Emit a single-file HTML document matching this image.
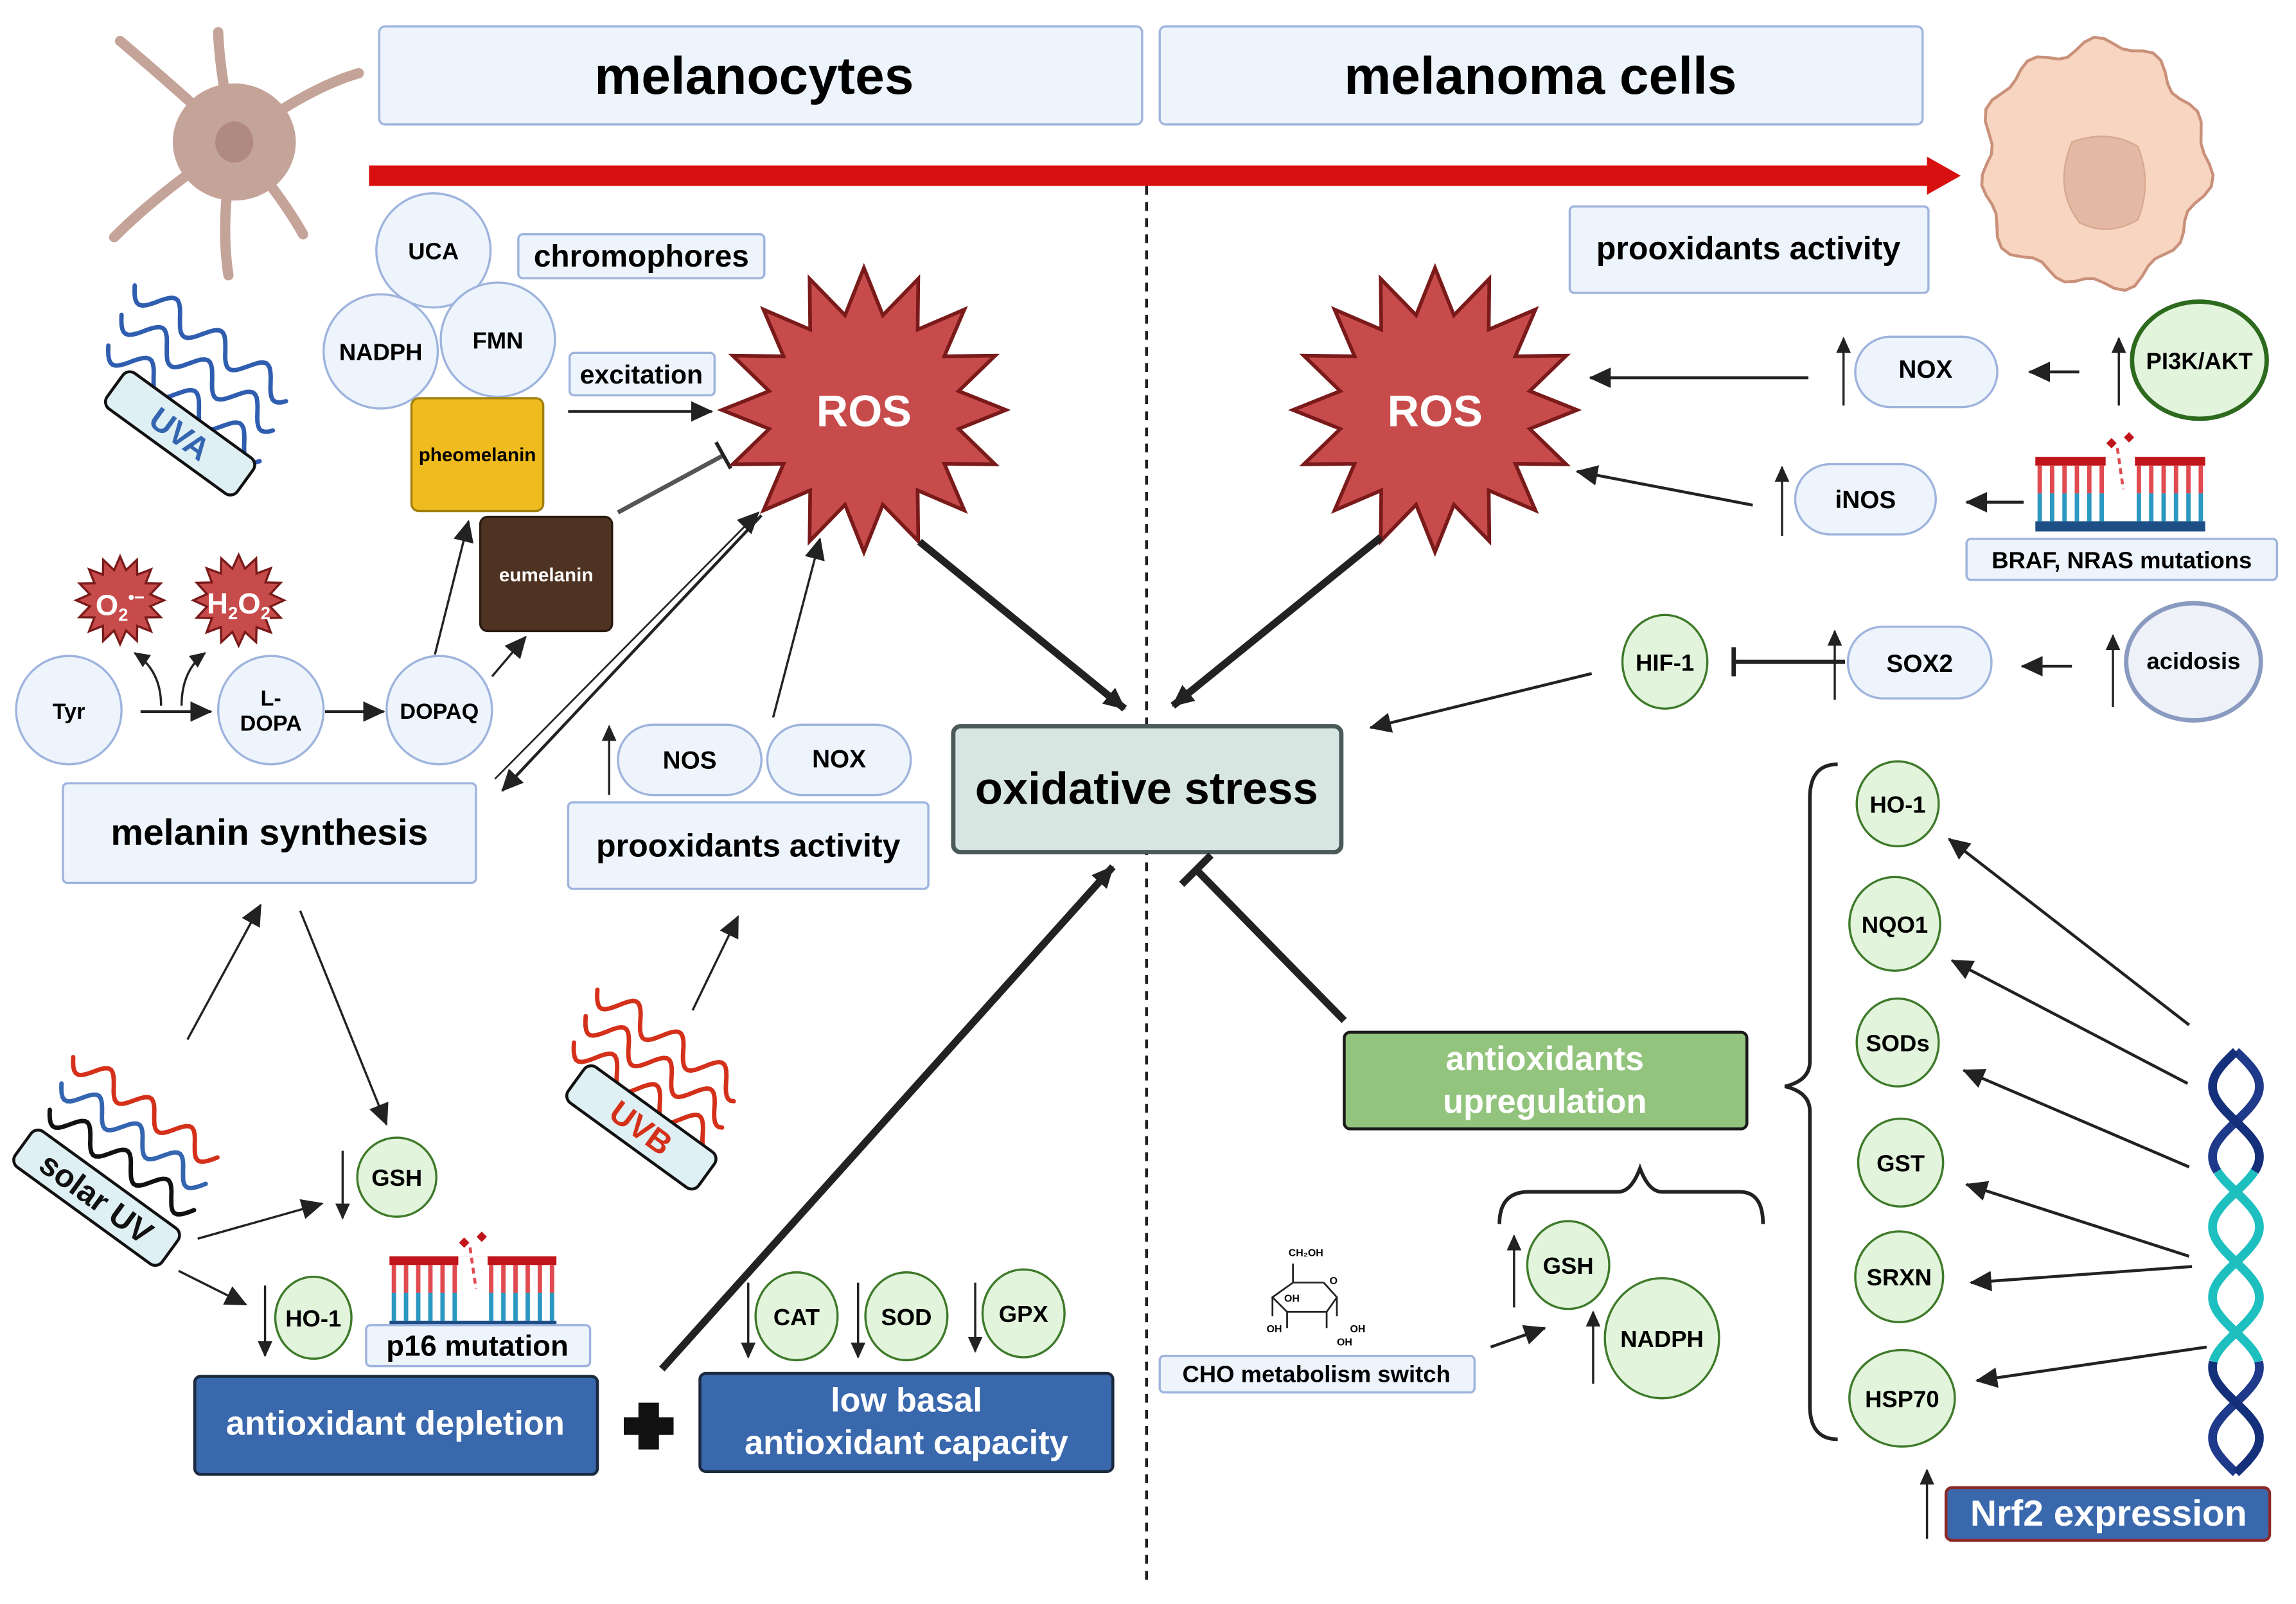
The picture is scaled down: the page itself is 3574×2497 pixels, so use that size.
<!DOCTYPE html>
<html><head><meta charset="utf-8">
<style>
html,body{margin:0;padding:0;background:#fff;}
svg{display:block;}
text{font-family:"Liberation Sans Narrow","Liberation Sans",sans-serif;font-weight:bold;}
</style></head>
<body>
<svg id="s" xmlns="http://www.w3.org/2000/svg" width="3574" height="2497" viewBox="0 0 1568 1095.5" preserveAspectRatio="none">
<defs>
<marker id="a" markerUnits="userSpaceOnUse" markerWidth="20" markerHeight="20" refX="14" refY="7" orient="auto"><path d="M0,0 L15,7 L0,14 z" fill="#222"/></marker>
<marker id="as" markerUnits="userSpaceOnUse" markerWidth="14" markerHeight="14" refX="10" refY="5" orient="auto"><path d="M0,0 L11,5 L0,10 z" fill="#222"/></marker>
</defs>
<rect width="1568" height="1096" fill="#fff"/>
<g id="bg"></g>

<!-- title boxes -->
<rect x="259" y="18" width="521" height="67" rx="4" fill="#eef4fc" stroke="#9fb4dd" stroke-width="1.5"/>
<text x="515" y="64" font-size="36" text-anchor="middle">melanocytes</text>
<rect x="792" y="18" width="521" height="67" rx="4" fill="#eef4fc" stroke="#9fb4dd" stroke-width="1.5"/>
<text x="1052" y="64" font-size="36" text-anchor="middle">melanoma cells</text>

<!-- red arrow -->
<rect x="252" y="113" width="1066" height="14" fill="#d91010"/>
<path d="M1316,107 L1339,120 L1316,133 z" fill="#d91010"/>
<!-- dotted line -->
<line x1="783" y1="127" x2="783" y2="1080" stroke="#222" stroke-width="2" stroke-dasharray="6,5"/>

<!-- melanocyte -->
<g stroke="#c4a398" stroke-linecap="round" fill="none">
<path d="M160,97 Q120,60 82,28" stroke-width="7"/>
<path d="M160,97 Q150,50 149,22" stroke-width="7"/>
<path d="M160,97 Q210,60 245,50" stroke-width="7"/>
<path d="M160,97 Q190,130 207,160" stroke-width="7"/>
<path d="M160,97 Q150,150 156,188" stroke-width="7"/>
<path d="M160,97 Q110,130 78,162" stroke-width="7"/>
</g>
<ellipse cx="160" cy="97" rx="42" ry="40" fill="#c4a398"/>
<ellipse cx="160" cy="97" rx="13" ry="14" fill="#b08a82"/>

<!-- melanoma cell -->
<path id="mcell" fill="#f7d5c0" stroke="#c9907a" stroke-width="2"/>
<path d="M1415,97 Q1440,88 1460,100 Q1470,125 1460,150 Q1440,162 1420,152 Q1402,128 1415,97z" fill="#e4b9a3" stroke="#d7a890" stroke-width="1"/>

<!-- chromophore circles -->
<g fill="#eef4fc" stroke="#9fb4dd" stroke-width="1.5">
<circle cx="296" cy="171" r="39"/>
<circle cx="260" cy="240" r="39"/>
<circle cx="340" cy="232" r="39"/>
</g>
<g font-size="16" text-anchor="middle">
<text x="296" y="177">UCA</text><text x="260" y="246">NADPH</text><text x="340" y="238">FMN</text>
</g>
<rect x="354" y="160" width="168" height="30" rx="3" fill="#eef4fc" stroke="#9fb4dd" stroke-width="1.5"/>
<text x="438" y="182" font-size="21" text-anchor="middle">chromophores</text>
<rect x="389" y="241" width="99" height="29" rx="3" fill="#eef4fc" stroke="#9fb4dd" stroke-width="1.5"/>
<text x="438" y="262" font-size="18" text-anchor="middle">excitation</text>
<rect x="281" y="272" width="90" height="77" rx="5" fill="#f0bb1e" stroke="#a0800e" stroke-width="1.5"/>
<text x="326" y="315" font-size="13" text-anchor="middle">pheomelanin</text>
<rect x="328" y="353" width="90" height="78" rx="5" fill="#4f3322" stroke="#2a1a10" stroke-width="1.5"/>
<text x="373" y="397" font-size="13" text-anchor="middle" fill="#fff">eumelanin</text>
<line x1="388" y1="281" x2="486" y2="281" stroke="#222" stroke-width="2" marker-end="url(#a)"/>
<line x1="422" y1="350" x2="494" y2="311" stroke="#555" stroke-width="3"/>
<line x1="489" y1="302" x2="499" y2="320" stroke="#222" stroke-width="2.5"/>

<g id="stars"></g>

<!-- Tyr pathway -->
<g fill="#eef4fc" stroke="#9fb4dd" stroke-width="1.5">
<ellipse cx="47" cy="485" rx="36" ry="37"/>
<ellipse cx="185" cy="485" rx="36" ry="37"/>
<ellipse cx="300" cy="485" rx="36" ry="37"/>
</g>
<text x="47" y="491" font-size="15" text-anchor="middle">Tyr</text>
<text x="185" y="482" font-size="15" text-anchor="middle">L-</text>
<text x="185" y="499" font-size="15" text-anchor="middle">DOPA</text>
<text x="300" y="491" font-size="15" text-anchor="middle">DOPAQ</text>
<line x1="96" y1="486" x2="144" y2="486" stroke="#222" stroke-width="2" marker-end="url(#a)"/>
<line x1="222" y1="486" x2="262" y2="486" stroke="#222" stroke-width="2" marker-end="url(#a)"/>
<path d="M110,482 Q110,458 92,446" stroke="#222" stroke-width="1.5" fill="none" marker-end="url(#as)"/>
<path d="M124,482 Q124,458 140,446" stroke="#222" stroke-width="1.5" fill="none" marker-end="url(#as)"/>
<line x1="297" y1="447" x2="320" y2="356" stroke="#222" stroke-width="1.5" marker-end="url(#a)"/>
<line x1="336" y1="462" x2="359" y2="435" stroke="#222" stroke-width="1.5" marker-end="url(#a)"/>

<!-- melanin synthesis -->
<rect x="43" y="535" width="282" height="68" rx="3" fill="#eef4fc" stroke="#9fb4dd" stroke-width="1.5"/>
<text x="184" y="577" font-size="25" text-anchor="middle">melanin synthesis</text>
<line x1="520" y1="352" x2="343" y2="540" stroke="#222" stroke-width="2" marker-end="url(#a)"/>
<line x1="338" y1="532" x2="518" y2="350" stroke="#222" stroke-width="1.2" marker-end="url(#a)"/>

<!-- NOS NOX -->
<rect x="422" y="495" width="98" height="48" rx="24" fill="#eef4fc" stroke="#9fb4dd" stroke-width="1.5"/>
<rect x="524" y="495" width="98" height="48" rx="24" fill="#eef4fc" stroke="#9fb4dd" stroke-width="1.5"/>
<text x="471" y="525" font-size="17" text-anchor="middle">NOS</text>
<text x="573" y="524" font-size="17" text-anchor="middle">NOX</text>
<line x1="416" y1="543" x2="416" y2="496" stroke="#222" stroke-width="1.5" marker-end="url(#as)"/>
<rect x="388" y="548" width="246" height="59" rx="3" fill="#eef4fc" stroke="#9fb4dd" stroke-width="1.5"/>
<text x="511" y="585" font-size="22" text-anchor="middle">prooxidants activity</text>
<line x1="528" y1="490" x2="560" y2="368" stroke="#222" stroke-width="1.5" marker-end="url(#a)"/>

<!-- oxidative stress -->
<rect x="651" y="496" width="265" height="86" rx="5" fill="#d8e6e2" stroke="#4a5a58" stroke-width="3"/>
<text x="783" y="549" font-size="31" text-anchor="middle">oxidative stress</text>
<line x1="628" y1="370" x2="768" y2="484" stroke="#222" stroke-width="5" marker-end="url(#a)"/>
<line x1="943" y1="367" x2="801" y2="482" stroke="#222" stroke-width="5" marker-end="url(#a)"/>

<!-- left bottom -->
<line x1="128" y1="710" x2="178" y2="618" stroke="#222" stroke-width="1.5" marker-end="url(#a)"/>
<line x1="205" y1="622" x2="264" y2="768" stroke="#222" stroke-width="1.5" marker-end="url(#a)"/>
<g fill="#e2f4dc" stroke="#3e7a2a" stroke-width="1.5">
<circle cx="271" cy="804" r="27"/>
<ellipse cx="214" cy="900" rx="26" ry="28"/>
<ellipse cx="544" cy="899" rx="28" ry="30"/>
<ellipse cx="619" cy="899" rx="28" ry="30"/>
<ellipse cx="699" cy="897" rx="28" ry="30"/>
</g>
<g font-size="16" text-anchor="middle">
<text x="271" y="810">GSH</text><text x="214" y="906">HO-1</text>
<text x="544" y="905">CAT</text><text x="619" y="905">SOD</text><text x="699" y="903">GPX</text>
</g>
<g stroke="#222" stroke-width="1.5">
<line x1="234" y1="786" x2="234" y2="832" marker-end="url(#as)"/>
<line x1="181" y1="878" x2="181" y2="926" marker-end="url(#as)"/>
<line x1="511" y1="876" x2="511" y2="927" marker-end="url(#as)"/>
<line x1="586" y1="876" x2="586" y2="927" marker-end="url(#as)"/>
<line x1="666" y1="876" x2="666" y2="923" marker-end="url(#as)"/>
<line x1="135" y1="846" x2="220" y2="822" marker-end="url(#a)"/>
<line x1="122" y1="868" x2="168" y2="891" marker-end="url(#a)"/>
</g>
<g id="dna1"></g>
<rect x="250" y="905" width="153" height="28" rx="3" fill="#eef4fc" stroke="#9fb4dd" stroke-width="1.5"/>
<text x="326" y="926" font-size="20" text-anchor="middle">p16 mutation</text>
<rect x="133" y="940" width="275" height="67" rx="4" fill="#3a68ad" stroke="#1c2a40" stroke-width="2"/>
<text x="270" y="980" font-size="23" text-anchor="middle" fill="#fff">antioxidant depletion</text>
<path d="M436,958h14v10h10v12h-10v10h-14v-10h-10v-12h10z" fill="#111"/>
<rect x="478" y="938" width="282" height="67" rx="4" fill="#3a68ad" stroke="#1c2a40" stroke-width="2"/>
<text x="619" y="964" font-size="23" text-anchor="middle" fill="#fff">low basal</text>
<text x="619" y="993" font-size="23" text-anchor="middle" fill="#fff">antioxidant capacity</text>
<line x1="452" y1="935" x2="760" y2="592" stroke="#222" stroke-width="5" marker-end="url(#a)"/>
<line x1="473" y1="690" x2="504" y2="626" stroke="#222" stroke-width="1.5" marker-end="url(#a)"/>

<g id="waves"></g>
<g transform="translate(123,296) rotate(36)"><rect x="-55" y="-15" width="110" height="30" rx="6" fill="#dff0f4" stroke="#111" stroke-width="2"/><text y="8" font-size="22" text-anchor="middle" fill="#3465b0">UVA</text></g>
<g transform="translate(66,818) rotate(36)"><rect x="-62" y="-15" width="124" height="30" rx="6" fill="#dff0f4" stroke="#111" stroke-width="2"/><text y="8" font-size="22" text-anchor="middle" fill="#111">solar UV</text></g>
<g transform="translate(438,770) rotate(36)"><rect x="-55" y="-15" width="110" height="30" rx="6" fill="#dff0f4" stroke="#111" stroke-width="2"/><text y="8" font-size="22" text-anchor="middle" fill="#d4301a">UVB</text></g>

<!-- right side -->
<rect x="1072" y="141" width="245" height="59" rx="3" fill="#eef4fc" stroke="#9fb4dd" stroke-width="1.5"/>
<text x="1194" y="177" font-size="22" text-anchor="middle">prooxidants activity</text>
<rect x="1267" y="230" width="97" height="48" rx="24" fill="#eef4fc" stroke="#9fb4dd" stroke-width="1.5"/>
<text x="1315" y="258" font-size="17" text-anchor="middle">NOX</text>
<ellipse cx="1502" cy="246" rx="46" ry="40" fill="#e2f4dc" stroke="#2d6a1e" stroke-width="3"/>
<text x="1502" y="252" font-size="16" text-anchor="middle">PI3K/AKT</text>
<rect x="1226" y="317" width="96" height="48" rx="24" fill="#eef4fc" stroke="#9fb4dd" stroke-width="1.5"/>
<text x="1274" y="347" font-size="17" text-anchor="middle">iNOS</text>
<g id="dna2"></g>
<rect x="1343" y="368" width="212" height="28" rx="3" fill="#eef4fc" stroke="#9fb4dd" stroke-width="1.5"/>
<text x="1449" y="388" font-size="16" text-anchor="middle">BRAF, NRAS mutations</text>
<ellipse cx="1137" cy="452" rx="29" ry="32" fill="#e2f4dc" stroke="#3e7a2a" stroke-width="1.5"/>
<text x="1137" y="458" font-size="16" text-anchor="middle">HIF-1</text>
<rect x="1262" y="428" width="98" height="49" rx="24" fill="#eef4fc" stroke="#9fb4dd" stroke-width="1.5"/>
<text x="1311" y="459" font-size="17" text-anchor="middle">SOX2</text>
<ellipse cx="1498" cy="452" rx="46" ry="40" fill="#eef2f8" stroke="#8a9ac0" stroke-width="3"/>
<text x="1498" y="457" font-size="16" text-anchor="middle">acidosis</text>
<g stroke="#222" stroke-width="1.5">
<line x1="1259" y1="277" x2="1259" y2="231" marker-end="url(#as)"/>
<line x1="1447" y1="277" x2="1447" y2="231" marker-end="url(#as)"/>
<line x1="1217" y1="366" x2="1217" y2="319" marker-end="url(#as)"/>
<line x1="1253" y1="478" x2="1253" y2="431" marker-end="url(#as)"/>
<line x1="1443" y1="483" x2="1443" y2="434" marker-end="url(#as)"/>
<line x1="1235" y1="258" x2="1086" y2="258" stroke-width="2" marker-end="url(#a)"/>
<line x1="1420" y1="254" x2="1386" y2="254" stroke-width="2" marker-end="url(#a)"/>
<line x1="1197" y1="345" x2="1077" y2="322" stroke-width="2" marker-end="url(#a)"/>
<line x1="1382" y1="343" x2="1343" y2="343" stroke-width="2" marker-end="url(#a)"/>
<line x1="1415" y1="455" x2="1381" y2="455" stroke-width="2" marker-end="url(#a)"/>
<line x1="1260" y1="452" x2="1184" y2="452" stroke-width="3"/>
<line x1="1184" y1="442" x2="1184" y2="462" stroke-width="3"/>
<line x1="1087" y1="460" x2="936" y2="497" stroke-width="2" marker-end="url(#a)"/>
</g>
<line x1="918" y1="697" x2="817" y2="594" stroke="#222" stroke-width="5"/>
<line x1="807" y1="604" x2="827" y2="584" stroke="#222" stroke-width="5"/>
<rect x="918" y="705" width="275" height="66" rx="4" fill="#93c47d" stroke="#1a1a1a" stroke-width="2"/>
<text x="1055" y="731" font-size="23" text-anchor="middle" fill="#fff">antioxidants</text>
<text x="1055" y="760" font-size="23" text-anchor="middle" fill="#fff">upregulation</text>
<path d="M1024,836 Q1024,814 1044,814 L1105,814 Q1114,814 1120,798 Q1126,814 1135,814 L1188,814 Q1204,814 1204,836" fill="none" stroke="#222" stroke-width="2.5"/>
<ellipse cx="1071" cy="864" rx="28" ry="30" fill="#e2f4dc" stroke="#3e7a2a" stroke-width="1.5"/>
<text x="1071" y="870" font-size="16" text-anchor="middle">GSH</text>
<ellipse cx="1135" cy="914" rx="39" ry="41" fill="#e2f4dc" stroke="#3e7a2a" stroke-width="1.5"/>
<text x="1135" y="920" font-size="16" text-anchor="middle">NADPH</text>
<g stroke="#222" stroke-width="1.5">
<line x1="1034" y1="893" x2="1034" y2="844" marker-end="url(#as)"/>
<line x1="1088" y1="945" x2="1088" y2="896" marker-end="url(#as)"/>
<line x1="1018" y1="920" x2="1055" y2="907" stroke-width="2" marker-end="url(#a)"/>
</g>
<!-- sugar -->
<g stroke="#222" stroke-width="1.2" fill="none">
<path d="M883,863 L883,876 L904,876 M904,876 L913,886 L906,896 L879,896 L869,886 L883,876 M879,896 L879,907 M906,896 L906,907 M913,886 L913,899 M869,886 L869,899"/>
</g>
<g font-size="7" font-weight="normal">
<text x="880" y="858">CH₂OH</text><text x="908" y="877">O</text><text x="877" y="889">OH</text>
<text x="865" y="910">OH</text><text x="922" y="910">OH</text><text x="913" y="919">OH</text>
</g>
<rect x="792" y="926" width="215" height="25" rx="3" fill="#eef4fc" stroke="#9fb4dd" stroke-width="1.5"/>
<text x="899" y="944" font-size="16" text-anchor="middle">CHO metabolism switch</text>

<!-- big brace -->
<path d="M1255,522 Q1236,522 1236,545 L1236,725 Q1236,738 1219,742 Q1236,746 1236,759 L1236,960 Q1236,983 1255,983" fill="none" stroke="#222" stroke-width="2.5"/>
<g fill="#e2f4dc" stroke="#3e7a2a" stroke-width="1.5">
<ellipse cx="1296" cy="549" rx="28" ry="29"/>
<ellipse cx="1294" cy="631" rx="31" ry="32"/>
<ellipse cx="1296" cy="712" rx="28" ry="30"/>
<ellipse cx="1298" cy="794" rx="29" ry="30"/>
<ellipse cx="1297" cy="872" rx="30" ry="31"/>
<ellipse cx="1299" cy="955" rx="36" ry="33"/>
</g>
<g font-size="16" text-anchor="middle">
<text x="1296" y="555">HO-1</text><text x="1294" y="637">NQO1</text><text x="1296" y="718">SODs</text>
<text x="1298" y="800">GST</text><text x="1297" y="878">SRXN</text><text x="1299" y="961">HSP70</text>
</g>
<g stroke="#222" stroke-width="2">
<line x1="1495" y1="700" x2="1331" y2="573" marker-end="url(#a)"/>
<line x1="1494" y1="740" x2="1333" y2="656" marker-end="url(#a)"/>
<line x1="1495" y1="797" x2="1341" y2="731" marker-end="url(#a)"/>
<line x1="1495" y1="858" x2="1343" y2="809" marker-end="url(#a)"/>
<line x1="1497" y1="865" x2="1346" y2="876" marker-end="url(#a)"/>
<line x1="1507" y1="920" x2="1350" y2="943" marker-end="url(#a)"/>
</g>
<g id="helix"></g>
<rect x="1329" y="1016" width="221" height="36" rx="4" fill="#3a68ad" stroke="#8a2a2a" stroke-width="2"/>
<text x="1440" y="1042" font-size="25" text-anchor="middle" fill="#fff">Nrf2 expression</text>
<line x1="1316" y1="1051" x2="1316" y2="1004" stroke="#222" stroke-width="1.5" marker-end="url(#as)"/>

<g id="stexts"></g>
<text x="590" y="291" font-size="30" text-anchor="middle" fill="#fff">ROS</text>
<text x="980" y="291" font-size="30" text-anchor="middle" fill="#fff">ROS</text>
<text x="82" y="420" font-size="20" text-anchor="middle" fill="#fff">O<tspan font-size="12" dy="4">2</tspan><tspan font-size="12" dy="-12">•−</tspan></text>
<text x="163" y="419" font-size="20" text-anchor="middle" fill="#fff">H<tspan font-size="12" dy="4">2</tspan><tspan dy="-4">O</tspan><tspan font-size="12" dy="4">2</tspan></text>
</svg>
<script>
var NS="http://www.w3.org/2000/svg";
function el(p,t,a){var e=document.createElementNS(NS,t);for(var k in a)e.setAttribute(k,a[k]);document.getElementById(p).appendChild(e);return e;}
function star(cx,cy,ro,ri,n,sw){var pts=[];for(var i=0;i<2*n;i++){var r=i%2?ri:ro;var a=Math.PI*i/n-Math.PI/2;pts.push((cx+r*Math.cos(a)).toFixed(1)+","+(cy+r*Math.sin(a)).toFixed(1));}
el("stars","polygon",{points:pts.join(" "),fill:"#c84b4b",stroke:"#7a1a1a","stroke-width":sw,"stroke-linejoin":"miter"});}
star(590,280,97,66,16,2.5);star(980,280,97,66,16,2.5);
star(82,410,30,21,16,1.5);star(163,410,31,22,16,1.5);
// melanoma cell
(function(){var d="";for(var i=0;i<=72;i++){var a=i/72*2*Math.PI;var r=80+4*Math.sin(a*11)+3*Math.cos(a*5);var x=1430+r*0.95*Math.cos(a),y=112+r*1.03*Math.sin(a);d+=(i?"L":"M")+x.toFixed(1)+","+y.toFixed(1);}document.getElementById("mcell").setAttribute("d",d+"z");
for(var j=0;j<18;j++){var a=j*2.4,r=30+ (j*13)%45;el("bg","circle",{});}
})();
// waves
function wave(x0,y0,len,ang,amp,per,col,w){var d="";var ca=Math.cos(ang),sa=Math.sin(ang);for(var t=0;t<=len;t+=2){var o=amp*Math.sin(2*Math.PI*t/per);var x=x0+t*ca-o*sa,y=y0+t*sa+o*ca;d+=(t?"L":"M")+x.toFixed(1)+","+y.toFixed(1);}
el("waves","path",{d:d,fill:"none",stroke:col,"stroke-width":w||3,"stroke-linecap":"round"});}
var A=0.62;
wave(92,195,130,A,9,38,"#2f5db0");wave(83,215,130,A,9,38,"#2f5db0");wave(74,236,130,A,9,38,"#2f5db0");
wave(50,722,120,A,8,34,"#d4301a");wave(42,740,120,A,8,34,"#3465b0");wave(34,758,120,A,8,34,"#111");
wave(408,676,120,A,9,36,"#d4301a");wave(400,694,120,A,9,36,"#d4301a");wave(392,712,120,A,9,36,"#d4301a");
// DNA mutation graphics
function dna(g,x,y,w){el(g,"rect",{x:x,y:y,width:w,height:6,fill:"#c0141a"});el(g,"rect",{x:x,y:y+44,width:w,height:7,fill:"#1d4f86"});
var n=Math.round(w/9);for(var i=0;i<=n;i++){var xx=x+3+i*(w-6)/n;if(Math.abs(xx-(x+w/2))<10)continue;el(g,"rect",{x:xx-1.5,y:y+6,width:3,height:19,fill:"#e04a50"});el(g,"rect",{x:xx-1.5,y:y+25,width:3,height:19,fill:"#2a98c0"});}
el(g,"rect",{x:x+w/2-10,y:y,width:20,height:8,fill:"#fff"});
el(g,"rect",{x:x+w/2-8,y:y-12,width:5,height:5,fill:"#c0141a",transform:"rotate(45 "+(x+w/2-6)+" "+(y-10)+")"});
el(g,"rect",{x:x+w/2+4,y:y-16,width:5,height:5,fill:"#c0141a",transform:"rotate(45 "+(x+w/2+6)+" "+(y-14)+")"});
el(g,"path",{d:"M"+(x+w/2-2)+","+(y-6)+" L"+(x+w/2+2)+","+(y+22),stroke:"#e04a50","stroke-width":2,"stroke-dasharray":"4,3"});}
dna("dna1",266,858,114);dna("dna2",1390,312,116);
// helix
(function(){var cx=1527,y0=718,y1=1007,amp=16,per=96;
function seg(ph,col,a,b){var d="";for(var y=a;y<=b;y+=2){var x=cx+amp*Math.sin(2*Math.PI*(y-y0)/per+ph);d+=(y==a?"M":"L")+x.toFixed(1)+","+y;}el("helix","path",{d:d,fill:"none",stroke:col,"stroke-width":6});}
[[0,"#1f3a8a"],[Math.PI,"#15307a"]].forEach(function(p){seg(p[0],p[1],y0,800);seg(p[0],"#1dbfbf",800,930);seg(p[0],p[1],930,y1);});})();
</script>
</body></html>
